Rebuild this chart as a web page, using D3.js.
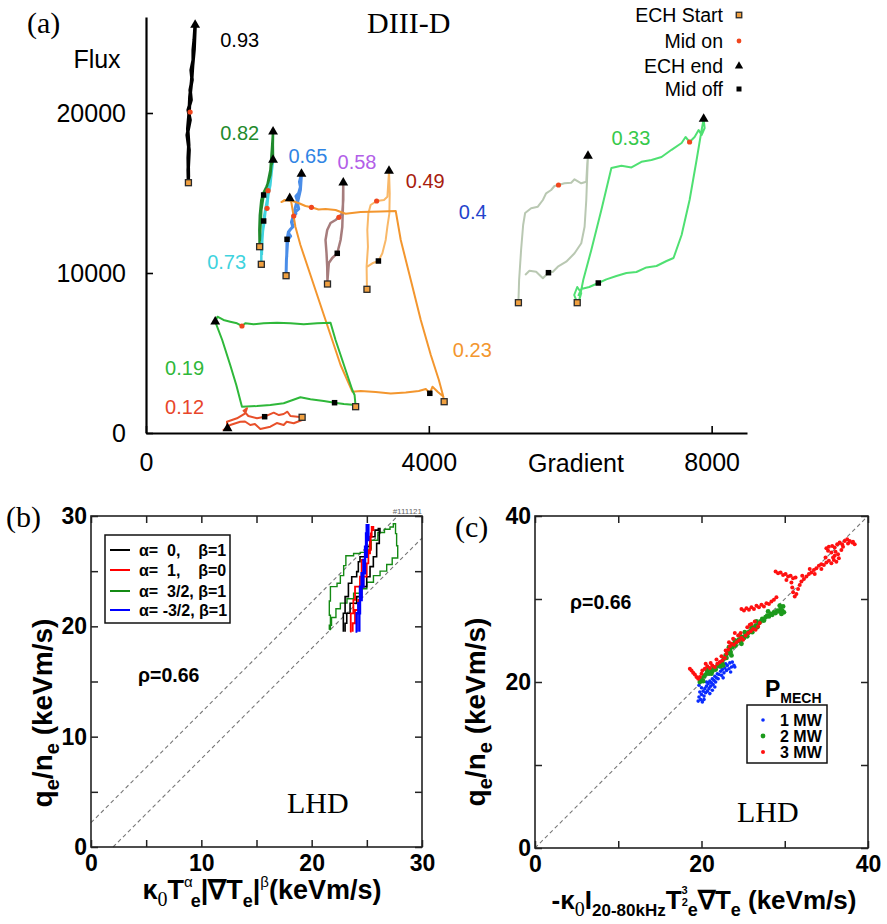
<!DOCTYPE html>
<html><head><meta charset="utf-8">
<script src="https://cdn.jsdelivr.net/npm/d3@7/dist/d3.min.js"></script>
<style>body{margin:0;background:#fff}svg{display:block}</style>
</head><body>
<svg id="c" width="887" height="924"></svg>
<script>
// ---------------- Panel (a) data : [Gradient, Flux] ----------------
const aXTicks = [0, 4000, 8000];
const aYTicks = [0, 10000, 20000];
const loopNames = ["0.93","0.82","0.73","0.65","0.58","0.49","0.23","0.4","0.33","0.19","0.12"];
const c093 = [[600,15644],[596,16438],[610,17688],[582,18625],[624,19563],[596,20188],[638,20813],[624,21438],[652,22063],[638,22688],[667,23313],[667,23938],[681,24563],[695,25500],[681,24000],[660,23000],[645,22000],[620,21000],[610,20000],[590,19000],[605,18000],[596,17200],[600,16000]];
const c082 = [[1607,11644],[1603,12688],[1610,13625],[1631,14563],[1660,15000],[1702,15375],[1730,15688],[1759,16125],[1773,16750],[1797,17063],[1794,18000],[1797,18831],[1780,17688],[1759,16438],[1716,15500],[1664,14875],[1631,13938],[1617,12688],[1610,12000]];
const c073 = [[1631,10544],[1631,11438],[1645,12375],[1674,13188],[1688,13813],[1716,14250],[1730,14875],[1759,15500],[1773,16125],[1797,17063],[1759,15938],[1712,14563],[1674,13625],[1664,13250],[1645,12063],[1638,11125]];
const c065 = [[1981,9831],[1986,10813],[2004,12063],[2045,12300],[2015,12500],[2033,12688],[2080,12900],[2067,13125],[2089,13563],[2120,13700],[2104,13938],[2138,14563],[2120,14800],[2160,15000],[2184,15375],[2170,15700],[2199,16188],[2184,15188],[2142,14375],[2160,14000],[2099,13750],[2057,13188],[2075,12900],[2014,12563],[1995,12106],[1990,11000]];
const c058 = [[2567,9313],[2563,10375],[2553,11250],[2539,12063],[2563,12688],[2610,13125],[2681,13313],[2728,13481],[2776,13750],[2790,14563],[2790,15644],[2785,14125],[2776,12875],[2752,12063],[2705,11231],[2634,10938],[2586,10625],[2567,9563]];
const c049 = [[3125,8981],[3120,10394],[3139,11644],[3130,12688],[3145,13731],[3177,14250],[3262,14500],[3366,14563],[3414,14769],[3437,16375],[3447,14981],[3442,13731],[3414,12894],[3390,12063],[3343,11231],[3287,10750],[3201,10606],[3130,10394]];
const c023 = [[4217,1956],[4199,2375],[4142,3313],[4028,4875],[3886,7063],[3745,9563],[3603,12063],[3532,13875],[3319,13844],[3035,13813],[2823,13706],[2681,13938],[2539,14000],[2440,13969],[2340,14106],[2255,14188],[2156,14375],[2071,14500],[1957,14563],[1915,14438],[2033,14669],[2057,14375],[2113,12894],[2184,11750],[2326,9875],[2468,8000],[2610,6125],[2752,4250],[2918,2581],[3035,2625],[3248,2563],[3461,2469],[3674,2531],[3858,2625],[3957,2750],[4014,2481],[4052,2894],[4128,2563],[4213,2250]];
const c04 = [[5267,8144],[5277,9563],[5305,11438],[5334,13000],[5362,13750],[5447,14044],[5542,14144],[5613,14563],[5659,14981],[5730,15188],[5777,15438],[5834,15500],[5919,15606],[6014,15644],[6061,15856],[6156,15606],[6227,15706],[6241,16856],[6251,17313],[6241,16231],[6227,14563],[6203,12894],[6156,11856],[6061,11231],[5943,10706],[5825,10394],[5755,10081],[5692,10019],[5613,9669],[5518,10081],[5423,10144],[5362,9875]];
const c033 = [[6099,8144],[6056,8625],[6099,9125],[6156,8750],[6128,8313],[6184,9563],[6298,11438],[6440,13938],[6582,16563],[6724,16700],[6866,16600],[7007,16950],[7149,17063],[7291,17250],[7433,17700],[7575,18125],[7631,18500],[7688,18188],[7759,18500],[7816,18938],[7858,18625],[7901,19063],[7887,19625],[7858,18938],[7787,17063],[7688,14563],[7575,12375],[7461,10938],[7362,10750],[7220,10438],[7078,10350],[6936,10063],[6795,10000],[6653,9813],[6511,9600],[6397,9375],[6269,9125],[6156,9000],[6114,8563]];
const c019 = [[2965,1644],[2950,2375],[2918,2688],[2823,3938],[2752,4875],[2681,5813],[2610,6894],[2421,6856],[2231,6794],[2043,6856],[1854,6894],[1664,6856],[1522,6794],[1404,6856],[1357,6688],[1287,6856],[1191,6956],[1096,7063],[1011,7269],[979,6956],[1078,5813],[1191,4250],[1277,3000],[1357,1644],[1570,1688],[1759,1750],[1947,1856],[2184,2231],[2326,2106],[2515,2000],[2667,1894],[2798,1813],[2965,1750]];
const c012 = [[2208,981],[2208,813],[2089,606],[1990,700],[1947,500],[1850,620],[1759,394],[1617,250],[1540,560],[1475,500],[1400,720],[1333,706],[1191,500],[1096,188],[1153,294],[1145,706],[1287,919],[1404,1231],[1428,1544],[1380,1394],[1447,1063],[1570,919],[1678,1019],[1806,1269],[1880,1120],[1947,1188],[2000,1330],[2043,1063],[2208,981]];
const loopData = [c093,c082,c073,c065,c058,c049,c023,c04,c033,c019,c012];
// markers (same order as loopNames; null = not visible)
const echStart = [[600,15644],[1607,11644],[1631,10544],[1981,9831],[2567,9313],[3125,8981],[4217,1956],[5267,8144],[6099,8144],[2965,1644],[2208,981]];
const midOn    = [[624,20063],[1726,15144],[1712,14044],[2089,13563],[2728,13481],[3262,14500],[2340,14106],[5834,15500],[7688,18188],[1357,6688],null];
const echEnd   = [[695,25500],[1797,18831],[1797,17063],[2199,16188],[2790,15644],[3437,16375],[2033,14669],[6251,17313],[7887,19625],[979,6956],[1153,294]];
const midOff   = [null,[1664,14875],[1664,13250],[1995,12106],[2705,11231],[3287,10750],[4014,2481],[5692,10019],[6397,9375],[2667,1894],[1678,1019]];
// label anchor positions (data units)
const labelPos = [[1050,24125],[1050,18313],[865,10250],[2014,16875],[2709,16500],[3674,15313],[4340,4750],[4425,13375],[6582,18000],[270,3625],[270,1188]];
const legendA = ["ECH Start","Mid on","ECH end","Mid off"];

// ---------------- Panel (b) data ----------------
const bTicks = [0,5,10,15,20,25,30];
const bRefOffsets = [2.2, -2.0];
const bSeriesNames = ["α=  0,    β=1","α=  1,    β=0","α=  3/2, β=1","α= -3/2, β=1"];
const bGreen = [[21.6,19.7],[21.7,21.0],[21.6,22.3],[21.7,23.6],[22.3,23.9],[22.6,24.6],[22.9,25.5],[23.1,26.4],[23.8,26.6],[24.4,26.7],[25.0,27.0],[25.4,27.8],[26.0,28.5],[26.6,28.8],[27.1,29.0],[27.4,29.3],[27.6,28.4],[27.7,27.3],[27.8,26.2],[27.3,25.6],[26.8,25.0],[26.2,24.6],[25.6,24.0],[25.0,23.4],[24.4,23.0],[23.8,22.5],[23.2,22.1],[22.6,21.6],[22.2,20.8],[21.8,20.1],[21.6,19.7]];
const bBlack = [[22.87,19.52],[22.87,21.18],[23.03,22.69],[23.33,23.9],[23.63,24.5],[24.08,24.96],[24.23,25.86],[24.38,26.31],[24.99,27.22],[25.29,28.12],[25.74,28.72],[26.04,28.87],[26.19,28.57],[26.13,27.52],[25.89,26.31],[25.59,25.41],[25.29,24.5],[24.99,23.6],[24.53,22.69],[24.08,22.09],[23.48,21.18],[23.18,20.28],[23.03,19.52]];
const bRed = [[23.48,19.52],[23.54,21.18],[23.78,22.39],[23.93,23.6],[24.38,24.5],[24.53,26.01],[24.84,26.61],[25.29,28.12],[25.44,28.72],[25.59,29.02],[25.44,28.42],[25.35,26.91],[25.14,25.71],[24.99,24.5],[24.69,23.6],[24.38,22.39],[24.23,21.48],[23.93,20.28],[23.72,19.52]];
const bBlue = [[24.14,19.52],[24.08,21.18],[24.23,22.09],[24.38,23.6],[24.53,24.81],[24.69,26.01],[24.84,27.22],[24.93,28.42],[24.99,29.17],[25.14,29.02],[25.14,27.82],[24.99,26.31],[24.84,24.81],[24.69,23.6],[24.53,22.39],[24.38,21.18],[24.32,19.52]];

// ---------------- Panel (c) data ----------------
const cTicks = [0,10,20,30,40];
const cSeriesNames = ["1 MW","2 MW","3 MW"];
const c1MW = [[19.6,17.7],[19.7,18.2],[19.9,17.9],[20.0,18.5],[20.1,17.6],[20.2,18.9],[20.3,18.3],[20.4,19.2],[20.5,18.7],[20.6,19.5],[20.7,18.9],[20.8,19.8],[20.9,19.2],[21.0,20.1],[21.1,19.5],[21.2,19.9],[21.3,20.4],[21.4,19.7],[21.5,20.2],[21.6,20.7],[21.7,20.0],[21.8,20.5],[21.9,21.0],[22.0,20.4],[22.1,20.9],[22.3,21.3],[22.4,20.8],[22.5,21.5],[22.7,21.1],[22.8,21.7],[23.0,21.4],[23.1,22.0],[23.3,21.6],[23.4,22.3],[23.6,21.8],[23.7,22.4],[23.9,22.0],[24.0,21.8],[20.0,19.3],[19.8,18.8],[20.6,20.0],[21.3,19.0],[22.2,21.8],[22.9,22.2],[19.7,19.6],[20.3,17.9],[21.0,18.6],[21.6,19.4],[22.6,20.5],[23.5,21.2]];
const c2MW = [[19.8,20.0],[20.0,20.4],[20.2,20.1],[20.3,20.7],[20.5,20.9],[20.7,21.2],[20.9,21.0],[21.1,21.5],[21.3,21.3],[21.5,21.7],[21.7,21.5],[21.9,21.9],[22.1,22.1],[22.3,21.9],[22.5,22.4],[22.7,22.8],[22.9,23.2],[23.0,22.9],[23.2,23.5],[23.4,23.9],[23.5,23.6],[23.7,24.2],[23.9,24.6],[24.1,24.4],[24.3,24.9],[24.5,25.1],[24.7,24.9],[24.9,25.4],[25.1,25.3],[25.3,25.7],[25.5,25.5],[25.7,26.0],[25.9,26.2],[26.1,26.0],[26.3,26.5],[26.5,26.8],[26.7,26.6],[26.9,27.1],[27.1,27.3],[27.3,27.6],[27.5,27.4],[27.7,27.8],[27.9,28.0],[28.1,27.9],[28.3,28.2],[28.5,28.1],[28.7,28.4],[28.9,28.3],[29.1,28.6],[29.3,28.5],[29.5,28.8],[29.7,28.6],[29.8,29.1],[29.9,28.4],[29.6,28.2],[29.4,29.2],[24.0,25.0],[24.6,25.6],[25.2,26.0],[26.0,26.6],[23.6,23.2],[22.6,22.0],[23.3,24.2],[24.8,24.6],[26.6,27.3],[28.0,28.5],[21.2,21.0],[20.6,21.5]];
const c3MW = [[18.6,21.6],[18.8,21.4],[19.0,21.1],[19.2,20.9],[19.4,20.6],[19.6,20.4],[19.8,20.6],[20.0,21.0],[20.1,21.4],
 [20.4,21.6],[20.7,21.9],[21.0,21.7],[21.3,22.0],[21.6,21.8],[21.9,22.2],[22.2,22.4],[22.5,22.6],[22.8,22.9],[23.0,23.4],[23.2,23.9],[23.4,24.3],[23.6,24.6],[23.9,24.5],[24.2,24.8],[24.5,25.0],[24.8,25.3],[25.0,25.1],[25.3,25.6],[25.6,25.9],[25.9,26.1],[26.2,26.4],[26.5,26.3],[26.8,26.7],[27.0,27.1],[23.8,25.2],[24.4,25.6],[25.5,26.6],[26.0,27.0],
 [20.5,22.2],[21.1,22.3],[21.8,22.7],[22.4,23.1],[22.9,23.8],[23.3,24.8],[24.0,25.9],[24.7,25.9],[25.8,26.9],[26.4,27.3],
 [24.8,28.8],[25.1,28.6],[25.4,28.9],[25.7,28.7],[26.0,29.0],[26.3,28.8],[26.6,29.2],[26.9,29.0],[27.2,29.3],[27.5,29.1],[27.8,29.5],[28.1,29.4],[28.4,29.7],[28.7,29.9],[29.0,30.2],
 [28.9,33.3],[29.2,33.1],[29.5,33.2],[29.8,32.9],[30.1,33.0],[30.4,32.7],[30.7,32.8],[31.0,32.5],[31.3,32.6],[30.8,32.0],[30.9,31.4],[31.0,30.8],[31.2,30.3],[31.4,30.6],[31.6,31.2],[31.8,31.7],[32.0,32.1],[32.3,32.4],[32.6,32.7],[32.9,33.0],[33.2,33.2],[33.5,33.5],[33.8,33.7],[34.1,34.0],[34.4,34.2],[34.7,34.1],[35.0,34.4],[35.3,34.6],[35.6,34.3],[35.9,34.7],[36.2,34.5],[36.5,34.9],[36.0,35.2],[35.6,35.6],[35.2,35.8],[35.0,36.1],[35.3,36.3],[35.7,36.4],[36.0,36.2],[36.3,36.6],[36.6,36.8],[36.9,36.6],[37.2,37.0],[37.5,37.2],[37.8,37.0],[38.1,36.8],[38.4,36.6],[38.2,36.9],[37.6,36.7],[36.8,35.9],[36.4,35.4],[35.8,35.0],[34.4,33.6],[33.6,33.0],[30.2,32.3],[32.1,32.8],[33.0,33.6],[34.9,35.0],[36.1,35.7],[37.0,36.3]];

// ---------------- drawing ----------------
const SANS = '"Liberation Sans", Arial, Helvetica, sans-serif';
const SERIF = '"Liberation Serif", "Times New Roman", serif';
const svg = d3.select('#c');
svg.append('rect').attr('width',887).attr('height',924).attr('fill','#fff');

// ===== Panel (a) =====
const xa = d3.scaleLinear().domain([0,8500]).range([146,747]);
const ya = d3.scaleLinear().domain([0,26000]).range([433,17]);
const gA = svg.append('g');
const loopColors = ["#000000","#1f8a2c","#3fd3de","#4a8de8","#a67c7c","#f9b868","#f3962e","#b9c8b2","#4fe072","#2fb83a","#e8502a"];
const loopWidths = [3.5,2.5,2.5,3,2.5,2,2,2,2,2,2];
const labelColors = ["#000000","#1f8a2c","#3fd3de","#2f84e4","#b25ee8","#a8200e","#f3962e","#2443cc","#35c94a","#2fb83a","#e8462a"];
const lineA = d3.line().x(d=>xa(d[0])).y(d=>ya(d[1]));
const drawOrder = [0,2,1,3,4,5,6,7,8,9,10];
drawOrder.forEach(i=>{
  gA.append('path').attr('d',lineA(loopData[i])).attr('fill','none')
    .attr('stroke',loopColors[i]).attr('stroke-width',loopWidths[i]).attr('stroke-linejoin','round');
});
function mStart(g,x,y,s=6){g.append('rect').attr('x',x-s/2).attr('y',y-s/2).attr('width',s).attr('height',s).attr('fill','#f0a040').attr('stroke','#2a2a2a').attr('stroke-width',1.3);}
function mOn(g,x,y,r=2.6){g.append('circle').attr('cx',x).attr('cy',y).attr('r',r).attr('fill','#f0461e');}
function mEnd(g,x,y,s=42){g.append('path').attr('d',d3.symbol(d3.symbolTriangle,s)()).attr('transform',`translate(${x},${y})`).attr('fill','#000');}
function mOff(g,x,y,s=5.5){g.append('rect').attr('x',x-s/2).attr('y',y-s/2).attr('width',s).attr('height',s).attr('fill','#000');}
loopNames.forEach((n,i)=>{
  if(echStart[i]) mStart(gA,xa(echStart[i][0]),ya(echStart[i][1]));
  if(midOff[i]) mOff(gA,xa(midOff[i][0]),ya(midOff[i][1]));
  if(midOn[i]) mOn(gA,xa(midOn[i][0]),ya(midOn[i][1]));
  if(echEnd[i]) mEnd(gA,xa(echEnd[i][0]),ya(echEnd[i][1]));
  gA.append('text').attr('x',xa(labelPos[i][0])).attr('y',ya(labelPos[i][1]))
    .attr('font-family',SANS).attr('font-size',20).attr('fill',labelColors[i]).text(n);
});
// axes (a)
const axYA = gA.append('g').attr('transform','translate(146,0)')
  .call(d3.axisLeft(ya).tickValues(aYTicks).tickSize(-7).tickSizeOuter(0).tickPadding(20).tickFormat(d3.format('d')));
const axXA = gA.append('g').attr('transform','translate(0,433)')
  .call(d3.axisBottom(xa).tickValues(aXTicks).tickSize(-7).tickSizeOuter(0).tickPadding(20).tickFormat(d3.format('d')));
[axYA,axXA].forEach(a=>{
  a.attr('font-family',SANS).attr('font-size',25);
  a.select('.domain').attr('stroke','#000').attr('stroke-width',2.2);
  a.selectAll('.tick line').attr('stroke','#000').attr('stroke-width',1.6);
  a.selectAll('text').attr('fill','#000');
});
gA.append('text').attr('x',97).attr('y',68).attr('text-anchor','middle').attr('font-family',SANS).attr('font-size',25).text('Flux');
gA.append('text').attr('x',576).attr('y',472).attr('text-anchor','middle').attr('font-family',SANS).attr('font-size',25).text('Gradient');
gA.append('text').attr('x',27).attr('y',33).attr('font-family',SERIF).attr('font-size',30).text('(a)');
gA.append('text').attr('x',367).attr('y',33).attr('font-family',SERIF).attr('font-size',30).text('DIII-D');
// legend (a)
const legY = [15,41,66,89];
legendA.forEach((t,i)=>{
  gA.append('text').attr('x',723).attr('y',legY[i]+7).attr('text-anchor','end').attr('font-family',SANS).attr('font-size',19.5).text(t);
  const mx=739, my=legY[i];
  if(i===0) mStart(gA,mx,my,5.5); if(i===1) mOn(gA,mx,my,2.4); if(i===2) mEnd(gA,mx,my,30); if(i===3) mOff(gA,mx,my,5);
});

// ===== frame helper for (b),(c) =====
function framedAxes(g,x,y,ticks,isMajor){
  const [x0,x1]=x.range(), [y0,y1]=y.range();
  const fmt = d=> isMajor(d)? d : '';
  const ax = [
    g.append('g').attr('transform',`translate(0,${y0})`).call(d3.axisBottom(x).tickValues(ticks).tickSize(-7).tickSizeOuter(0).tickPadding(8).tickFormat(fmt)),
    g.append('g').attr('transform',`translate(0,${y1})`).call(d3.axisTop(x).tickValues(ticks).tickSize(-7).tickSizeOuter(0).tickFormat('')),
    g.append('g').attr('transform',`translate(${x0},0)`).call(d3.axisLeft(y).tickValues(ticks).tickSize(-7).tickSizeOuter(0).tickPadding(4).tickFormat(fmt)),
    g.append('g').attr('transform',`translate(${x1},0)`).call(d3.axisRight(y).tickValues(ticks).tickSize(-7).tickSizeOuter(0).tickFormat(''))
  ];
  ax.forEach(a=>{
    a.select('.domain').remove();
    a.attr('font-family',SANS).attr('font-size',23).attr('font-weight','bold');
    a.selectAll('.tick line').attr('stroke','#222').attr('stroke-width',1.5);
    a.selectAll('text').attr('fill','#000');
  });
  g.append('rect').attr('x',x0).attr('y',y1).attr('width',x1-x0).attr('height',y0-y1)
    .attr('fill','none').attr('stroke','#222').attr('stroke-width',1.6);
}

// ===== Panel (b) =====
const xb = d3.scaleLinear().domain([0,30]).range([91,422]);
const yb = d3.scaleLinear().domain([0,30]).range([847,516]);
const gB = svg.append('g');
bRefOffsets.forEach(o=>{
  const pts = o>0 ? [[0,o],[30-o,30]] : [[-o,0],[30,30+o]];
  gB.append('line').attr('x1',xb(pts[0][0])).attr('y1',yb(pts[0][1])).attr('x2',xb(pts[1][0])).attr('y2',yb(pts[1][1]))
    .attr('stroke','#777').attr('stroke-width',1.1).attr('stroke-dasharray','4,3');
});
const lineB = d3.line().x(d=>xb(d[0])).y(d=>yb(d[1])).curve(d3.curveStepAfter);
const bSeries = [bBlack,bRed,bGreen,bBlue];
const bColors = ["#000000","#ff0000","#148a14","#0000ff"];
const bWidths = [1.6,1.8,1.4,2.4];
[2,0,1,3].forEach(i=>{
  gB.append('path').attr('d',lineB(bSeries[i])).attr('fill','none').attr('stroke',bColors[i]).attr('stroke-width',bWidths[i]);
});
framedAxes(gB,xb,yb,bTicks,d=>d%10===0);
// legend (b)
gB.append('rect').attr('x',105).attr('y',535).attr('width',125).attr('height',88).attr('fill','#fff').attr('stroke','#111').attr('stroke-width',1.5);
const bLegY=[550,570,591,610];
bSeriesNames.forEach((t,i)=>{
  gB.append('line').attr('x1',110).attr('x2',130).attr('y1',bLegY[i]).attr('y2',bLegY[i]).attr('stroke',bColors[i]).attr('stroke-width',2);
  gB.append('text').attr('x',139).attr('y',bLegY[i]+6).attr('font-family',SANS).attr('font-size',16).attr('font-weight','bold')
    .style('white-space','pre').text(t);
});
gB.append('text').attr('x',138).attr('y',682).attr('font-family',SANS).attr('font-size',19.5).attr('font-weight','bold').text('ρ=0.66');
gB.append('text').attr('x',287).attr('y',813).attr('font-family',SERIF).attr('font-size',30).text('LHD');
gB.append('text').attr('x',6).attr('y',527).attr('font-family',SERIF).attr('font-size',30).text('(b)');
gB.append('text').attr('x',422).attr('y',514).attr('text-anchor','end').attr('font-family',SANS).attr('font-size',8).attr('fill','#666').text('#111121');
// x title (b)
const tb = gB.append('text').attr('x',262).attr('y',899).attr('text-anchor','middle').attr('font-family',SANS).attr('font-size',27).attr('font-weight','bold');
tb.append('tspan').text('κ');
tb.append('tspan').attr('font-family',SERIF).attr('font-weight','normal').attr('font-size',20).attr('dy',7).text('0');
tb.append('tspan').attr('dy',-7).text('T');
tb.append('tspan').attr('font-size',15).attr('font-weight','normal').attr('dy',-12).text('α');
tb.append('tspan').attr('font-size',18).attr('dx',-2).attr('dy',20).text('e');
tb.append('tspan').attr('dy',-8).text('|∇T');
tb.append('tspan').attr('font-size',18).attr('dy',8).text('e');
tb.append('tspan').attr('dy',-8).text('|');
tb.append('tspan').attr('font-size',15).attr('font-weight','normal').attr('dy',-12).text('β');
tb.append('tspan').attr('dy',12).text('(keVm/s)');
function yTitle(g,x,y){
  const t = g.append('text').attr('transform',`translate(${x},${y}) rotate(-90)`).attr('text-anchor','middle')
    .attr('font-family',SANS).attr('font-size',28).attr('font-weight','bold');
  t.append('tspan').text('q');
  t.append('tspan').attr('font-size',20).attr('dy',7).text('e');
  t.append('tspan').attr('dy',-7).text('/n');
  t.append('tspan').attr('font-size',20).attr('dy',7).text('e');
  t.append('tspan').attr('dy',-7).text(' (keVm/s)');
}
yTitle(gB,52,713);

// ===== Panel (c) =====
const xc = d3.scaleLinear().domain([0,40]).range([535,868]);
const yc = d3.scaleLinear().domain([0,40]).range([848,516]);
const gC = svg.append('g');
gC.append('line').attr('x1',xc(0)).attr('y1',yc(0)).attr('x2',xc(40)).attr('y2',yc(40))
  .attr('stroke','#777').attr('stroke-width',1.1).attr('stroke-dasharray','4,3');
const cSeries = [c1MW,c2MW,c3MW];
const cColors = ["#0a2cff","#1c9a1c","#ff1010"];
const cR = [1.8,2.4,2.0];
[0,1,2].forEach(i=>{
  gC.append('g').selectAll('circle').data(cSeries[i]).join('circle')
    .attr('cx',d=>xc(d[0])).attr('cy',d=>yc(d[1])).attr('r',cR[i]).attr('fill',cColors[i]);
});
framedAxes(gC,xc,yc,cTicks,d=>d%20===0);
gC.append('text').attr('x',570).attr('y',609).attr('font-family',SANS).attr('font-size',19.5).attr('font-weight','bold').text('ρ=0.66');
gC.append('text').attr('x',737).attr('y',822).attr('font-family',SERIF).attr('font-size',30).text('LHD');
gC.append('text').attr('x',455).attr('y',537).attr('font-family',SERIF).attr('font-size',30).text('(c)');
const pm = gC.append('text').attr('x',765).attr('y',697).attr('font-family',SANS).attr('font-size',23).attr('font-weight','bold');
pm.append('tspan').text('P');
pm.append('tspan').attr('font-size',14).attr('dy',6).text('MECH');
gC.append('rect').attr('x',747).attr('y',705).attr('width',80).attr('height',58).attr('fill','#fff').attr('stroke','#111').attr('stroke-width',1.5);
const cLegY=[720,736,752];
cSeriesNames.forEach((t,i)=>{
  gC.append('circle').attr('cx',763).attr('cy',cLegY[i]).attr('r',cR[i]).attr('fill',cColors[i]);
  gC.append('text').attr('x',780).attr('y',cLegY[i]+6).attr('font-family',SANS).attr('font-size',16).attr('font-weight','bold').text(t);
});
const tc = gC.append('text').attr('x',704).attr('y',909).attr('text-anchor','middle').attr('font-family',SANS).attr('font-size',26).attr('font-weight','bold');
tc.append('tspan').text('-κ');
tc.append('tspan').attr('font-family',SERIF).attr('font-weight','normal').attr('font-size',20).attr('dy',7).text('0');
tc.append('tspan').attr('dy',-7).text('I');
tc.append('tspan').attr('font-size',17).attr('dy',7).text('20-80kHz');
tc.append('tspan').attr('dy',-7).text('T');
tc.append('tspan').attr('font-size',11).attr('dy',-15).text('3');
tc.append('tspan').attr('font-size',11).attr('dx',-6).attr('dy',12).text('2');
tc.append('tspan').attr('font-size',18).attr('dx',0).attr('dy',10).text('e');
tc.append('tspan').attr('dy',-7).text('∇T');
tc.append('tspan').attr('font-size',18).attr('dy',7).text('e');
tc.append('tspan').attr('dy',-7).text(' (keVm/s)');
yTitle(gC,485,712);
</script>
</body></html>
